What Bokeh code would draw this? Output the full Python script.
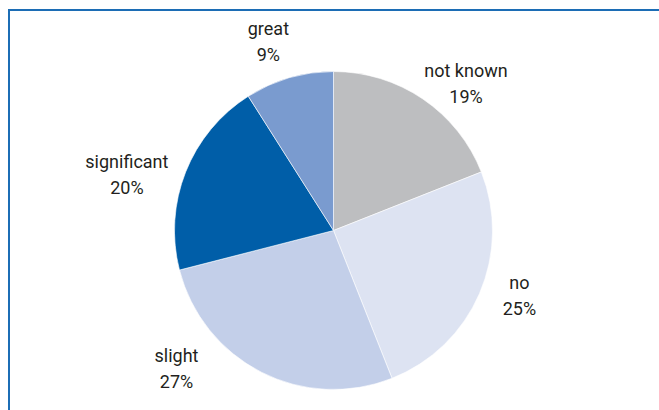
import math
from bokeh.plotting import figure
from bokeh.models import Range1d, ColumnDataSource
from bokeh.core.properties import value
from bokeh.embed import file_html
from bokeh.resources import INLINE

# ---- data ----
categories = ["not known", "no", "slight", "significant", "great"]
shares = [19, 25, 27, 20, 9]
colors = ["#bdbec0", "#dde3f2", "#c3cfe9", "#005ea8", "#7a9bcf"]

# ---- layout (label placement, degrees clockwise from 12 o'clock, radius px) ----
label_angle = [42, 109.3, 228.7, 285.1, 341]
label_radius = [198, 197, 209, 214, 200]

W, H = 659, 410
CX, CY = 333, 230  # pie centre in pixels from top-left
R = 159

p = figure(width=W, height=H, output_backend="svg", toolbar_location=None,
           x_range=Range1d(-CX, W - CX), y_range=Range1d(-(H - CY), CY),
           min_border=0, outline_line_color=None)
p.axis.visible = False
p.grid.visible = False
p.background_fill_color = "white"
p.border_fill_color = "white"

total = float(sum(shares))
starts, ends = [], []
cum = 0.0
for s in shares:
    starts.append(math.pi / 2 - cum / total * 2 * math.pi)
    cum += s
    ends.append(math.pi / 2 - cum / total * 2 * math.pi)

src = ColumnDataSource(dict(cat=categories, start=starts, end=ends, color=colors))
p.wedge(x=0, y=0, radius=R, start_angle="start", end_angle="end", direction="clock",
        fill_color="color", line_color="white", line_width=0.6, source=src)

lx = [r * math.sin(math.radians(a)) for a, r in zip(label_angle, label_radius)]
ly = [r * math.cos(math.radians(a)) for a, r in zip(label_angle, label_radius)]
pct = [f"{s}%" for s in shares]
lsrc = ColumnDataSource(dict(x=lx, y=ly, name=categories, pct=pct))
font = value("Roboto")
p.text(x="x", y="y", text="name", source=lsrc, text_font=font, text_font_size="18px",
       text_color="#231f20", text_align="center", text_baseline="middle", y_offset=-13)
p.text(x="x", y="y", text="pct", source=lsrc, text_font=font, text_font_size="18px",
       text_color="#231f20", text_align="center", text_baseline="middle", y_offset=13)

# frame lines (top and left)
fx = [8.5 - CX, 8.5 - CX, W - CX]
fy = [-(H - CY), CY - 9.5, CY - 9.5]
p.line(fx, fy, line_color="#1c6db5", line_width=2, line_join="miter")

open("out.html", "w").write(file_html(p, INLINE))
